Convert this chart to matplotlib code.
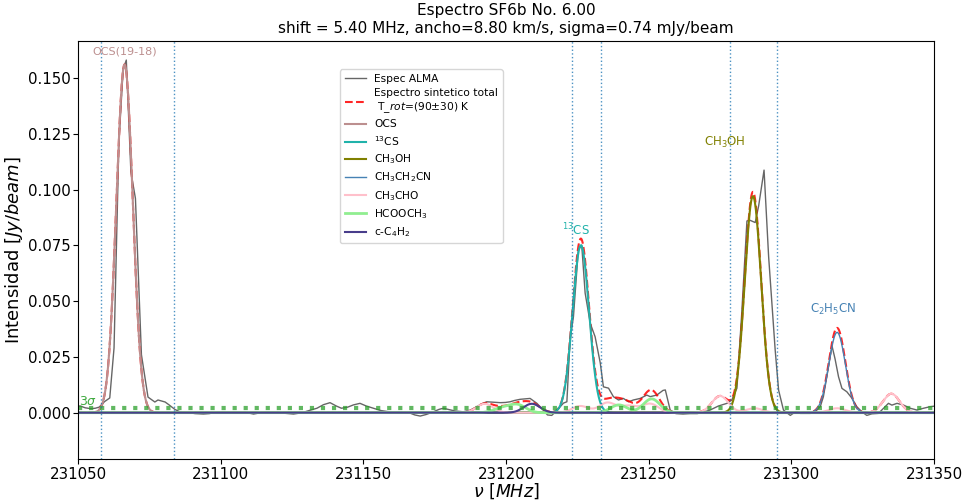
import numpy as np
import matplotlib
matplotlib.use("Agg")
import matplotlib.pyplot as plt

# ---------------- data ----------------
title_txt = "Espectro SF6b No. 6.00\nshift = 5.40 MHz, ancho=8.80 km/s, sigma=0.74 mJy/beam"
ancho_kms = 8.80
sigma_mjy = 0.74

obs_freq = [231049.0, 231050.8, 231052.5, 231054.5, 231056.0, 231057.4, 231059.3, 231061.1,
            231062.6, 231064.3, 231065.8, 231066.9, 231068.5, 231070.1, 231072.2, 231074.5,
            231076.9, 231078.0, 231080.5, 231082.0, 231083.9, 231085.5, 231087.5, 231089.0,
            231091.0, 231093.9, 231096.0, 231098.5, 231101.0, 231103.5, 231106.0, 231108.5,
            231111.5, 231114.0, 231116.0, 231119.0, 231122.0, 231125.5, 231128.5, 231131.0,
            231133.7, 231136.0, 231138.3, 231140.5, 231142.3, 231144.5, 231146.5, 231148.8,
            231151.0, 231153.5, 231156.0, 231158.5, 231161.0, 231163.5, 231166.0, 231168.0,
            231169.9, 231172.0, 231174.5, 231176.5, 231178.0, 231180.0, 231182.0, 231185.0,
            231187.5, 231189.7, 231191.5, 231193.2, 231195.5, 231198.0, 231199.8, 231201.4,
            231203.0, 231204.9, 231206.5, 231208.4, 231210.8, 231213.0, 231214.5, 231216.0,
            231217.8, 231220.1, 231221.3, 231222.4, 231223.6, 231225.3, 231226.5, 231227.7,
            231229.5, 231231.2, 231233.0, 231234.1, 231235.9, 231237.6, 231239.4, 231241.1,
            231242.9, 231244.6, 231247.0, 231249.3, 231250.5, 231252.8, 231255.0, 231255.8,
            231257.5, 231259.5, 231262.0, 231264.5, 231267.0, 231269.5, 231271.5, 231274.4,
            231277.4, 231279.1, 231280.9, 231282.6, 231284.4, 231285.5, 231287.3, 231288.5,
            231290.4, 231292.0, 231294.3, 231295.5, 231297.2, 231299.6, 231301.5, 231303.1,
            231306.6, 231308.3, 231310.1, 231311.2, 231313.0, 231314.2, 231315.3, 231316.5,
            231317.7, 231319.4, 231321.2, 231322.9, 231324.7, 231326.4, 231328.2, 231330.5,
            231332.3, 231334.0, 231335.2, 231337.0, 231339.3, 231341.6, 231344.0, 231346.3,
            231348.6, 231350.5]
obs_int = [0.0030, 0.0030, 0.0022, 0.0018, 0.0020, 0.0025, 0.0050, 0.0066,
           0.0290, 0.1210, 0.1540, 0.1580, 0.1080, 0.0960, 0.0260, 0.0070,
           0.0048, 0.0057, 0.0048, 0.0034, 0.0015, 0.0005, 0.0002, 0.0000,
           -0.0004, -0.0006, -0.0004, 0.0003, 0.0004, 0.0002, 0.0003, 0.0002,
           -0.0006, 0.0000, 0.0004, 0.0002, -0.0002, -0.0006, 0.0000, 0.0010,
           0.0020, 0.0036, 0.0045, 0.0030, 0.0020, 0.0025, 0.0035, 0.0042,
           0.0030, 0.0020, 0.0010, 0.0005, 0.0003, 0.0004, 0.0000, -0.0010,
           -0.0015, -0.0008, 0.0004, 0.0015, 0.0020, 0.0014, 0.0008, 0.0004,
           0.0012, 0.0027, 0.0040, 0.0049, 0.0047, 0.0045, 0.0046, 0.0049,
           0.0055, 0.0060, 0.0062, 0.0064, 0.0042, 0.0012, -0.0010, -0.0012,
           0.0010, 0.0043, 0.0049, 0.0326, 0.0430, 0.0729, 0.0751, 0.0536,
           0.0400, 0.0340, 0.0223, 0.0116, 0.0110, 0.0072, 0.0057, 0.0064,
           0.0049, 0.0057, 0.0064, 0.0079, 0.0072, 0.0079, 0.0100, 0.0102,
           0.0012, -0.0004, -0.0006, -0.0004, -0.0004, 0.0004, 0.0012, 0.0030,
           0.0042, 0.0057, 0.0110, 0.0450, 0.0859, 0.0862, 0.0852, 0.0926,
           0.1087, 0.0700, 0.0281, 0.0101, 0.0012, -0.0012, 0.0005, -0.0003,
           -0.0003, 0.0004, 0.0027, 0.0072, 0.0207, 0.0300, 0.0240, 0.0161,
           0.0109, 0.0094, 0.0065, 0.0027, 0.0004, -0.0012, -0.0005, -0.0003,
           0.0020, 0.0042, 0.0034, 0.0042, 0.0034, 0.0020, 0.0012, 0.0020,
           0.0027, 0.0030]

# model line lists: (centre MHz, peak Jy/beam)
ocs_lines = [(231066.3, 0.156)]
cs13_lines = [(231226.2, 0.075)]
ch3oh_lines = [(231286.5, 0.097)]
c2h5cn_lines = [(231316.0, 0.036)]
ch3cho_lines = [(231192.5, 0.004), (231226.0, 0.003), (231235.5, 0.0045), (231243.0, 0.003),
                (231250.5, 0.004), (231275.0, 0.0075), (231287.0, 0.002), (231316.0, 0.002),
                (231335.0, 0.0085)]
hcooch3_lines = [(231198.5, 0.002), (231204.0, 0.0035), (231239.5, 0.0035), (231251.0, 0.0062)]
cc4h2_lines = [(231209.0, 0.0040)]

vlines_mhz = [231058.0, 231083.6, 231223.0, 231233.3, 231278.5, 231295.0]

# ---------------- model ----------------
fgrid = np.linspace(231040, 231360, 3000)
fwhm = ancho_kms / 299792.458 * 231200.0
sig = fwhm / (2 * np.sqrt(2 * np.log(2)))


def model(lines):
    y = np.zeros_like(fgrid)
    for c, a in lines:
        y += a * np.exp(-0.5 * ((fgrid - c) / sig) ** 2)
    return y


components = [
    ("OCS", ocs_lines, "rosybrown", 1.5),
    ("$^{13}$CS", cs13_lines, "lightseagreen", 1.5),
    ("CH$_3$OH", ch3oh_lines, "olive", 1.5),
    ("CH$_3$CH$_2$CN", c2h5cn_lines, "steelblue", 1.0),
    ("CH$_3$CHO", ch3cho_lines, "pink", 1.5),
    ("HCOOCH$_3$", hcooch3_lines, "lightgreen", 2.0),
    ("c-C$_4$H$_2$", cc4h2_lines, "darkslateblue", 1.5),
]
total = sum(model(l) for _, l, _, _ in components)

# ---------------- plot ----------------
fig = plt.figure(figsize=(9.64, 5.01), dpi=100)
ax = fig.add_axes([0.081, 0.084, 0.888, 0.834])

ax.plot(obs_freq, obs_int, color="k", alpha=0.6, lw=1.0, label="Espec ALMA")
ax.plot(fgrid, total, color="red", ls="--", lw=1.5, alpha=0.85,
        label="Espectro sintetico total\n T_$rot$=(90$\\pm$30) K")
for name, lines, col, lw in components:
    ax.plot(fgrid, model(lines), color=col, lw=lw, label=name)

three_sig = 3 * sigma_mjy / 1000.0
ax.axhline(three_sig, color="tab:green", ls=":", lw=3, alpha=0.75)
ax.text(231050.3, three_sig, "$3\\sigma$", color="tab:green", fontsize=9,
        ha="left", va="bottom", alpha=0.9)

for v in vlines_mhz:
    ax.axvline(v, color="tab:blue", ls=":", lw=1, alpha=0.8)

ax.text(231066.5, 0.1598, "OCS(19-18)", color="rosybrown", fontsize=8, ha="center", va="bottom")
ax.text(231224.5, 0.0782, "$^{13}$CS", color="lightseagreen", fontsize=8.5, ha="center", va="bottom")
ax.text(231276.8, 0.1175, "CH$_3$OH", color="olive", fontsize=8.5, ha="center", va="bottom")
ax.text(231314.6, 0.0430, "C$_2$H$_5$CN", color="steelblue", fontsize=8.5, ha="center", va="bottom")

ax.set_xlim(231050, 231350)
ax.set_ylim(-0.0207, 0.1665)
ax.ticklabel_format(axis="x", useOffset=False, style="plain")
ax.tick_params(labelsize=10.8, pad=2)
ax.set_xlabel("$\\nu$ [$MHz$]", fontsize=12.5, labelpad=0)
ax.set_ylabel("Intensidad [$Jy/beam$]", fontsize=13, labelpad=2)
ax.set_title(title_txt, fontsize=11)

ax.legend(loc="upper left", bbox_to_anchor=(0.3, 0.945), fontsize=7.7, framealpha=0.8,
          labelspacing=0.42)

fig.savefig("out.png", dpi=100)
